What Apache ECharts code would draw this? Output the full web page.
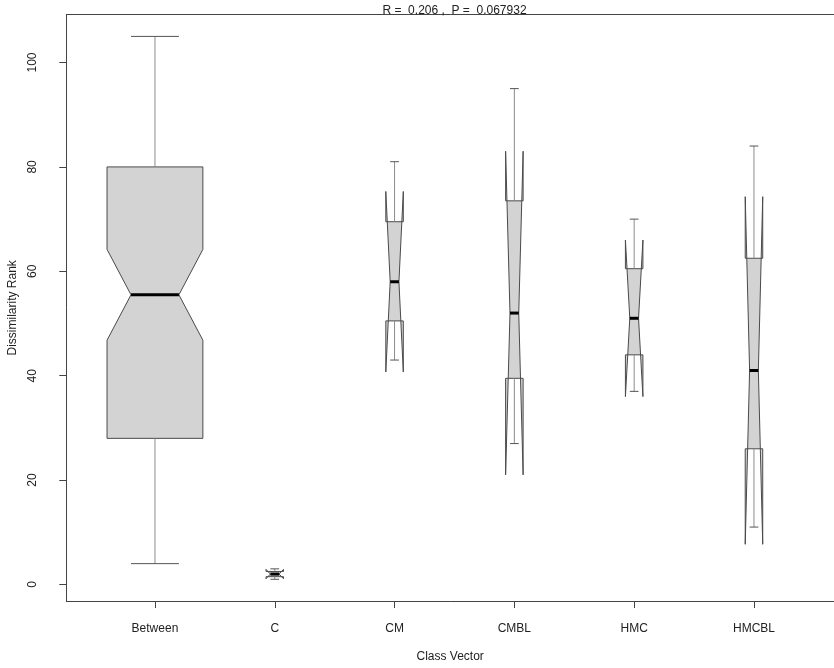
<!DOCTYPE html>
<html>
<head>
<meta charset="utf-8">
<script src="https://cdn.jsdelivr.net/npm/echarts@6/dist/echarts.min.js"></script>
<style>
  html, body { margin: 0; padding: 0; background: #ffffff; }
  #chart { width: 834px; height: 668px; }
</style>
</head>
<body>
<div id="chart"></div>
<script>
// ANOSIM rank boxplot: one notched box per class
const categories  = ['Between', 'C', 'CM', 'CMBL', 'HMC', 'HMCBL'];
const whiskerLow  = [4, 1, 43, 27, 37, 11];
const lowerHinge  = [28, 1.5, 50.5, 39.5, 44, 26];
const medians     = [55.5, 2, 58, 52, 51, 41];
const upperHinge  = [80, 2.5, 69.5, 73.5, 60.5, 62.5];
const whiskerHigh = [105, 3, 81, 95, 70, 84];
const notchLow    = [46.8, 1.1, 40.7, 21.0, 36.0, 7.7];
const notchHigh   = [64.2, 2.9, 75.3, 83.0, 66.0, 74.3];
const pairCounts  = [90, 3, 3, 3, 3, 3];
const yTicks      = [0, 20, 40, 60, 80, 100];
const xTicks      = [1, 2, 3, 4, 5, 6];
const titleText   = 'R =  0.206 ,  P =  0.067932';

const FONT = '"Liberation Sans", Arial, Helvetica, sans-serif';
const TEXT = '#222222';
const FRAME = '#444444';
const maxCount = Math.max.apply(null, pairCounts);

// rows: [position, wLo, q1, med, q3, wHi, notchLo, notchHi, halfWidth]
const rows = categories.map(function (c, i) {
  return [i + 1, whiskerLow[i], lowerHinge[i], medians[i], upperHinge[i],
          whiskerHigh[i], notchLow[i], notchHigh[i],
          0.4 * Math.sqrt(pairCounts[i] / maxCount)];
});

function renderBox(params, api) {
  const x = api.value(0);
  const cx = api.coord([x, 0])[0];
  const w = api.size([api.value(8), 0])[0];
  const y = function (v) { return api.coord([x, v])[1]; };
  const wLo = y(api.value(1)), q1 = y(api.value(2)), med = y(api.value(3));
  const q3 = y(api.value(4)), wHi = y(api.value(5));
  const nLo = y(api.value(6)), nHi = y(api.value(7));
  const h = w * 0.5;
  return {
    type: 'group',
    children: [
      {
        type: 'polygon',
        shape: { points: [
          [cx - w, q1], [cx + w, q1], [cx + w, nLo], [cx + h, med], [cx + w, nHi],
          [cx + w, q3], [cx - w, q3], [cx - w, nHi], [cx - h, med], [cx - w, nLo]
        ] },
        style: { fill: '#d3d3d3', stroke: '#4a4a4a', lineWidth: 1 }
      },
      {
        type: 'line',
        shape: { x1: cx - h, y1: med, x2: cx + h, y2: med },
        style: { stroke: '#000000', lineWidth: 3 }
      },
      {
        type: 'line',
        shape: { x1: cx, y1: wLo, x2: cx, y2: q1 },
        style: { stroke: '#8c8c8c', lineWidth: 1 }
      },
      {
        type: 'line',
        shape: { x1: cx, y1: q3, x2: cx, y2: wHi },
        style: { stroke: '#8c8c8c', lineWidth: 1 }
      },
      {
        type: 'line',
        shape: { x1: cx - h, y1: wLo, x2: cx + h, y2: wLo },
        style: { stroke: '#555555', lineWidth: 1 }
      },
      {
        type: 'line',
        shape: { x1: cx - h, y1: wHi, x2: cx + h, y2: wHi },
        style: { stroke: '#555555', lineWidth: 1 }
      }
    ]
  };
}

const chart = echarts.init(document.getElementById('chart'), null, { renderer: 'canvas' });
chart.setOption({
  animation: false,
  backgroundColor: '#ffffff',
  title: {
    text: titleText,
    left: 454.5,
    top: 5,
    padding: 0,
    textAlign: 'center',
    textStyle: { fontFamily: FONT, fontSize: 12, fontWeight: 'normal', color: TEXT }
  },
  // the plot frame runs past the right edge of the page
  grid: { left: 66.3, top: 14.7, right: 0, bottom: 67, outerBoundsMode: 'none' },
  xAxis: [{
    type: 'value',
    min: 0.26, max: 6.668,
    name: 'Class Vector',
    nameLocation: 'middle',
    nameGap: 50,
    nameTextStyle: { fontFamily: FONT, fontSize: 12, color: TEXT },
    axisLine: { show: true, onZero: false, lineStyle: { color: FRAME, width: 1 } },
    axisTick: { show: true, length: 7, customValues: xTicks,
                lineStyle: { color: FRAME, width: 1 } },
    axisLabel: {
      customValues: xTicks,
      formatter: function (v) { return categories[Math.round(v) - 1]; },
      margin: 22,
      fontFamily: FONT, fontSize: 12, color: TEXT
    },
    splitLine: { show: false }
  }, {
    // top edge of the frame
    type: 'value',
    position: 'top',
    min: 0.26, max: 6.668,
    axisLine: { show: true, onZero: false, lineStyle: { color: FRAME, width: 1 } },
    axisTick: { show: false },
    axisLabel: { show: false },
    splitLine: { show: false }
  }],
  yAxis: {
    type: 'value',
    min: -3.16, max: 109.16,
    name: 'Dissimilarity Rank',
    nameLocation: 'middle',
    nameGap: 41,
    nameTextStyle: { fontFamily: FONT, fontSize: 12, color: TEXT },
    axisLine: { show: true, onZero: false, lineStyle: { color: FRAME, width: 1 } },
    axisTick: { show: true, length: 7, customValues: yTicks,
                lineStyle: { color: FRAME, width: 1 } },
    axisLabel: {
      customValues: yTicks,
      rotate: 90,
      margin: 28,
      fontFamily: FONT, fontSize: 12, color: TEXT
    },
    splitLine: { show: false }
  },
  series: [{
    type: 'custom',
    renderItem: renderBox,
    encode: { x: 0, y: [1, 5] },
    data: rows,
    clip: false
  }]
});
</script>
</body>
</html>
